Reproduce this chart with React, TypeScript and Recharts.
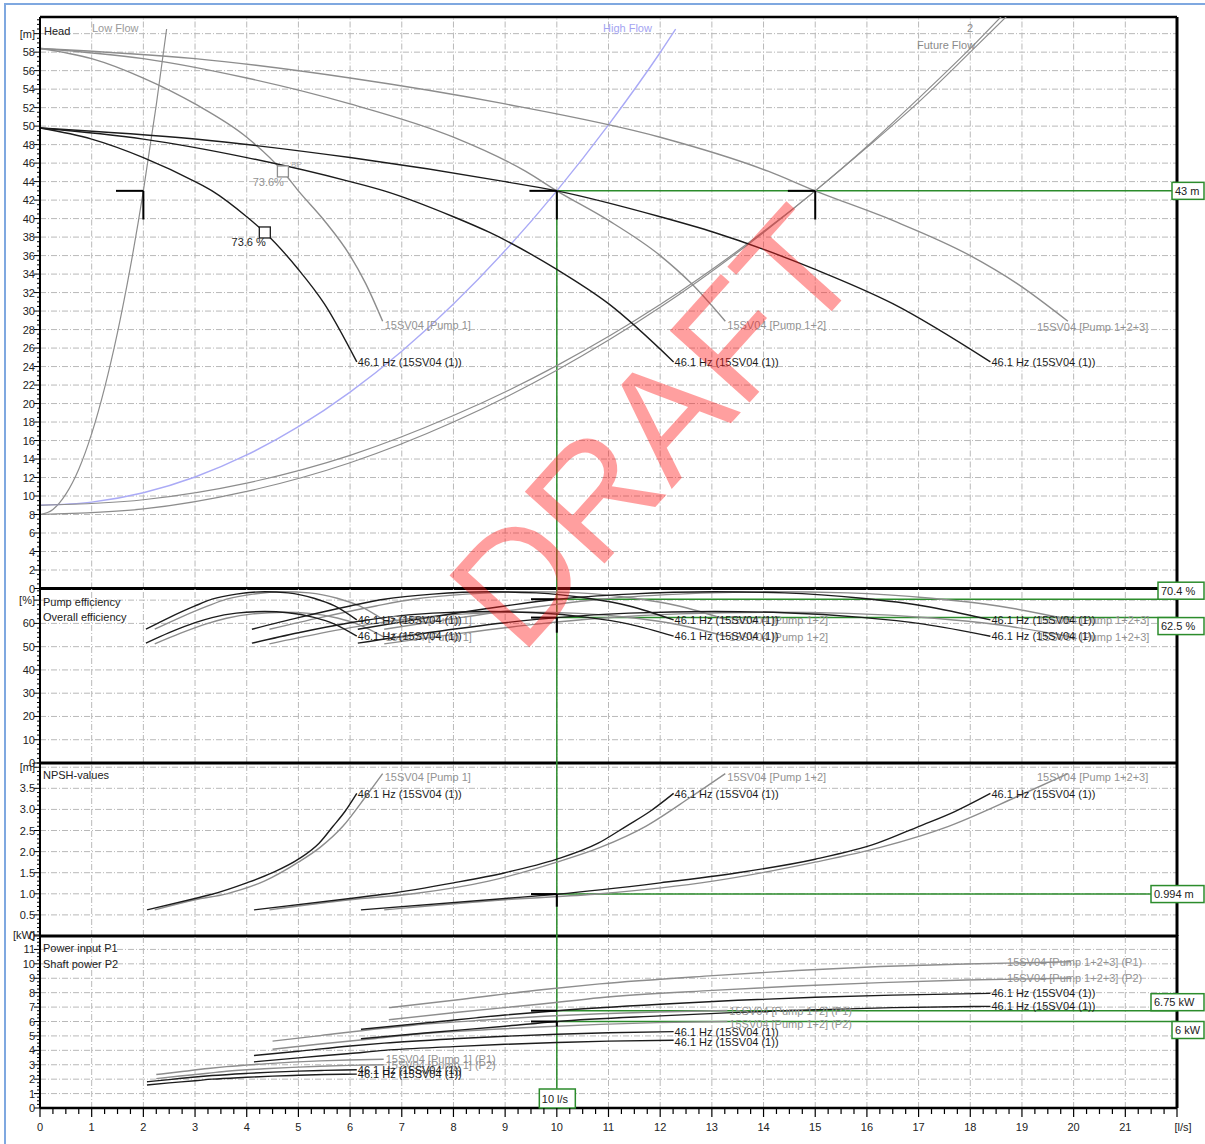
import React from 'react';
import { LineChart, Line, XAxis, YAxis, ReferenceLine, ReferenceDot } from 'recharts';

type P = [number, number];

// ---------------- Head [m] ----------------
const lowFlowSystem: P[] = [[0,8],[0.25,8.55],[0.5,10.2],[0.75,12.9],[1,16.75],[1.25,21.7],[1.5,27.7],[1.75,34.8],[2,43],[2.25,52.3],[2.45,60.5]];
const highFlowSystem: P[] = [[0,9],[1,9.34],[2,10.36],[3,12.06],[4,14.44],[5,17.5],[6,21.24],[7,25.66],[8,30.76],[9,36.54],[10,43],[11,50.14],[12,57.96],[12.3,60.5]];
const futureFlowA: P[] = [[0,9],[2,9.6],[4,11.4],[6,14.4],[8,18.7],[10,24.1],[12,30.7],[14,38.6],[15,43],[16,47.7],[17,52.6],[18,58],[19,63.5]];
const futureFlowB: P[] = [[0,8],[2,8.6],[4,10.5],[6,13.6],[8,18],[10,23.6],[12,30.4],[14,38.5],[15,43],[16,47.8],[17,53],[18,58.4],[19,64.2]];

const headPump1: P[] = [[0,58.4],[1,57.3],[2,55.2],[3,52.4],[4,48.8],[4.7,45.1],[5,43],[5.5,39.8],[6,36],[6.3,33],[6.63,28.9]];
const headPump12: P[] = [[0,58.4],[2,57.3],[4,55.2],[6,52.4],[8,48.8],[9.4,45.1],[10,43],[11,39.8],[12,36],[12.6,33],[13.26,28.9]];
const headPump123: P[] = [[0,58.4],[3,57.3],[6,55.2],[9,52.4],[12,48.8],[14.1,45.1],[15,43],[16.5,39.8],[18,36],[18.9,33],[19.89,28.9]];
const head461_1: P[] = [[0,49.8],[1,48.6],[2,46.6],[3,44],[3.33,43],[4,40.2],[4.35,38.5],[5,34.5],[5.5,30.8],[6.13,24.5]];
const head461_12: P[] = [[0,49.8],[2,48.6],[4,46.6],[6,44],[6.66,43],[8,40.2],[8.7,38.5],[10,34.5],[11,30.8],[12.26,24.5]];
const head461_123: P[] = [[0,49.8],[3,48.6],[6,46.6],[9,44],[10,43],[12,40.2],[13.05,38.5],[15,34.5],[16.5,30.8],[18.39,24.5]];
const bepPump1: P = [4.7, 45.1];
const bep461: P = [4.35, 38.5];

// ---------------- Efficiency [%] ----------------
const effPump461_1: P[] = [[2.05,57.5],[2.5,62.5],[3,67.5],[3.33,70.4],[3.8,72.6],[4.35,73.6],[4.8,73.1],[5.3,70.8],[5.7,67.5],[6.13,61.5]];
const effAll461_1: P[] = [[2.05,51.5],[2.5,56],[3,60.3],[3.33,62.5],[3.8,64.4],[4.35,65.1],[4.8,64.6],[5.3,62.6],[5.7,59.7],[6.13,54.5]];
const effPump_1: P[] = [[2.22,57.5],[2.71,62.5],[3.25,67.5],[3.61,70.4],[4.12,72.6],[4.72,73.6],[5.21,73.1],[5.75,70.8],[6.18,67.5],[6.65,61.5]];
const effAll_1: P[] = [[2.22,51.2],[2.71,55.7],[3.25,60],[3.61,62.2],[4.12,64.1],[4.72,64.8],[5.21,64.3],[5.75,62.3],[6.18,59.4],[6.65,54.2]];
const effPump461_12: P[] = [[4.1,57.5],[5,62.5],[6,67.5],[6.66,70.4],[7.6,72.6],[8.7,73.6],[9.6,73.1],[10.6,70.8],[11.4,67.5],[12.26,61.5]];
const effAll461_12: P[] = [[4.1,51.5],[5,56],[6,60.3],[6.66,62.5],[7.6,64.4],[8.7,65.1],[9.6,64.6],[10.6,62.6],[11.4,59.7],[12.26,54.5]];
const effPump_12: P[] = [[4.44,57.5],[5.42,62.5],[6.5,67.5],[7.22,70.4],[8.24,72.6],[9.44,73.6],[10.42,73.1],[11.5,70.8],[12.36,67.5],[13.3,61.5]];
const effAll_12: P[] = [[4.44,51.2],[5.42,55.7],[6.5,60],[7.22,62.2],[8.24,64.1],[9.44,64.8],[10.42,64.3],[11.5,62.3],[12.36,59.4],[13.3,54.2]];
const effPump461_123: P[] = [[6.15,57.5],[7.5,62.5],[9,67.5],[10,70.4],[11.4,72.6],[13.05,73.6],[14.4,73.1],[15.9,70.8],[17.1,67.5],[18.39,61.5]];
const effAll461_123: P[] = [[6.15,51.5],[7.5,56],[9,60.3],[10,62.5],[11.4,64.4],[13.05,65.1],[14.4,64.6],[15.9,62.6],[17.1,59.7],[18.39,54.5]];
const effPump_123: P[] = [[6.66,57.5],[8.13,62.5],[9.75,67.5],[10.83,70.4],[12.36,72.6],[14.16,73.6],[15.63,73.1],[17.25,70.8],[18.54,67.5],[19.95,61.5]];
const effAll_123: P[] = [[6.66,51.2],[8.13,55.7],[9.75,60],[10.83,62.2],[12.36,64.1],[14.16,64.8],[15.63,64.3],[17.25,62.3],[18.54,59.4],[19.95,54.2]];

// ---------------- NPSH [m] ----------------
const npsh461_1: P[] = [[2.07,0.62],[3,0.89],[3.33,0.99],[4,1.26],[4.5,1.5],[5,1.82],[5.4,2.2],[5.67,2.6],[5.9,2.95],[6.13,3.38]];
const npsh_1: P[] = [[2.22,0.62],[3,0.86],[3.61,1.0],[4.34,1.3],[5,1.75],[5.42,2.1],[5.86,2.6],[6.3,3.3],[6.63,3.85]];
const npsh461_12: P[] = [[4.14,0.62],[6,0.89],[6.66,0.99],[8,1.26],[9,1.5],[10,1.82],[10.8,2.2],[11.34,2.6],[11.8,2.95],[12.26,3.38]];
const npsh_12: P[] = [[4.44,0.62],[6,0.86],[7.22,1.0],[8.68,1.3],[10,1.75],[10.84,2.1],[11.72,2.6],[12.6,3.3],[13.26,3.85]];
const npsh461_123: P[] = [[6.21,0.62],[9,0.89],[10,0.99],[12,1.26],[13.5,1.5],[15,1.82],[16.2,2.2],[17.01,2.6],[17.7,2.95],[18.39,3.38]];
const npsh_123: P[] = [[6.66,0.62],[9,0.86],[10.83,1.0],[13.02,1.3],[15,1.75],[16.26,2.1],[17.58,2.6],[18.9,3.3],[19.89,3.85]];

// ---------------- Power [kW] ----------------
const p1_461_1: P[] = [[2.07,1.82],[2.5,1.97],[3,2.15],[3.33,2.25],[4,2.4],[4.5,2.49],[5,2.56],[5.5,2.61],[6.13,2.65]];
const p2_461_1: P[] = [[2.07,1.6],[2.5,1.74],[3,1.89],[3.33,2.0],[4,2.13],[4.5,2.21],[5,2.27],[5.5,2.32],[6.13,2.35]];
const p1_1: P[] = [[2.25,2.32],[2.71,2.51],[3.25,2.74],[3.61,2.87],[4.34,3.06],[4.88,3.18],[5.42,3.27],[5.97,3.33],[6.65,3.38]];
const p2_1: P[] = [[2.25,2.04],[2.71,2.22],[3.25,2.41],[3.61,2.55],[4.34,2.72],[4.88,2.82],[5.42,2.9],[5.97,2.96],[6.65,3.0]];
const p1_461_12: P[] = [[4.14,3.64],[5,3.94],[6,4.3],[6.66,4.5],[8,4.8],[9,4.98],[10,5.12],[11,5.22],[12.26,5.3]];
const p2_461_12: P[] = [[4.14,3.2],[5,3.48],[6,3.78],[6.66,4.0],[8,4.26],[9,4.42],[10,4.54],[11,4.64],[12.26,4.7]];
const p1_12: P[] = [[4.5,4.64],[5.42,5.02],[6.5,5.48],[7.22,5.74],[8.68,6.12],[9.76,6.36],[10.84,6.54],[11.94,6.66],[13.3,6.76]];
const p2_12: P[] = [[4.5,4.08],[5.42,4.44],[6.5,4.82],[7.22,5.1],[8.68,5.44],[9.76,5.64],[10.84,5.8],[11.94,5.92],[13.3,6.0]];
const p1_461_123: P[] = [[6.21,5.46],[7.5,5.91],[9,6.45],[10,6.75],[12,7.2],[13.5,7.47],[15,7.68],[16.5,7.83],[18.39,7.95]];
const p2_461_123: P[] = [[6.21,4.8],[7.5,5.22],[9,5.67],[10,6.0],[12,6.39],[13.5,6.63],[15,6.81],[16.5,6.96],[18.39,7.05]];
const p1_123: P[] = [[6.75,6.96],[8.13,7.53],[9.75,8.22],[10.83,8.61],[13.02,9.18],[14.64,9.54],[16.26,9.81],[17.91,9.99],[19.95,10.14]];
const p2_123: P[] = [[6.75,6.12],[8.13,6.66],[9.75,7.23],[10.83,7.65],[13.02,8.16],[14.64,8.46],[16.26,8.7],[17.91,8.88],[19.95,9.0]];

// ---------------- Duty point ----------------
const dutyFlow = 10;
const dutyHead = 43;
const dutyEffPump = 70.4;
const dutyEffAll = 62.5;
const dutyNpsh = 0.994;
const dutyP1 = 6.75;
const dutyP2 = 6;
const headMarks: number[] = [2, 10, 15];

// ---------------- Labels ----------------
const lbl461 = '46.1 Hz (15SV04 (1))';
const lblP1 = '15SV04 [Pump 1]';
const lblP12 = '15SV04 [Pump 1+2]';
const lblP123 = '15SV04 [Pump 1+2+3]';

// ---------------- Styles ----------------
const FONT = '"Liberation Sans", Arial, sans-serif';
const W = 1205;
const GRAY = '#8d8d8d';
const TGRAY = '#929292';
const BLACK = '#1c1c1c';
const BLUE = '#aaaaf6';
const GREEN = '#2c8c2c';
const GRIDC = '#b9b9b9';

const range = (a: number, b: number, s: number): number[] => {
  const out: number[] = [];
  for (let i = 0; a + i * s <= b + 1e-9; i++) out.push(Math.round((a + i * s) * 1000) / 1000);
  return out;
};

const xTicks = range(0, 22, 0.25);
const xGrid = range(1, 21, 1);

const rows = (a: P[]) => a.map(([q, v]) => ({ q, v }));
const last = (a: P[]): P => a[a.length - 1];

const curve = (key: string, d: P[], color: string, w = 1.4) => (
  <Line key={key} data={rows(d)} dataKey="v" type="monotone" stroke={color} strokeWidth={w}
    dot={false} activeDot={false} isAnimationActive={false} legendType="none" />
);

const tag = (key: string, pt: P, text: string, color: string, dx = 2, dy = 4, size = 11, anchor = 'start') => (
  <ReferenceDot key={key} x={pt[0]} y={pt[1]} r={0} ifOverflow="visible"
    shape={(p: any) => (
      <text x={p.cx + dx} y={p.cy + dy} fontSize={size} fontFamily={FONT} fill={color} textAnchor={anchor}>{text}</text>
    )} />
);

const square = (key: string, pt: P, color: string) => (
  <ReferenceDot key={key} x={pt[0]} y={pt[1]} r={0} ifOverflow="visible"
    shape={(p: any) => (
      <rect x={p.cx - 5.5} y={p.cy - 5.5} width={11} height={11} fill="#fff" stroke={color} strokeWidth={1.3} />
    )} />
);

const valueBox = (key: string, pt: P, text: string, w: number, pos: 'above' | 'below' | 'center') => (
  <ReferenceDot key={key} x={pt[0]} y={pt[1]} r={0} ifOverflow="visible"
    shape={(p: any) => {
      const h = 17;
      const right = p.cx + 27;
      const y0 = pos === 'above' ? p.cy - h : pos === 'below' ? p.cy : p.cy - h / 2;
      return (
        <g>
          <rect x={right - w} y={y0} width={w} height={h} fill="#fff" stroke={GREEN} strokeWidth={1.5} />
          <text x={right - w + 3} y={y0 + 12.5} fontSize={11} fontFamily={FONT} fill="#222">{text}</text>
        </g>
      );
    }} />
);

const tee = (key: string, q: number, v: number, dq: number, dv: number) => [
  <ReferenceLine key={key + 'h'} segment={[{ x: q - dq, y: v }, { x: q, y: v }]} stroke="#000" strokeWidth={2} />,
  dv > 0 ? <ReferenceLine key={key + 'v'} segment={[{ x: q, y: v }, { x: q, y: v - dv }]} stroke="#000" strokeWidth={2} /> : null,
];

const grid = (key: string, ys: number[]) => [
  ...xGrid.map((x) => <ReferenceLine key={key + 'x' + x} x={x} stroke={GRIDC} strokeWidth={1} strokeDasharray="6 2 1 2" />),
  ...ys.map((y) => <ReferenceLine key={key + 'y' + y} y={y} stroke={GRIDC} strokeWidth={1} strokeDasharray="6 2 1 2" />),
];

const greenH = (key: string, v: number) => (
  <ReferenceLine key={key} segment={[{ x: dutyFlow, y: v }, { x: 22, y: v }]} stroke={GREEN} strokeWidth={1.5} />
);

const yTickRenderer = (majors: number[], fmt: (v: number) => string) => (p: any) => {
  const v = p.payload.value;
  const major = majors.some((m) => Math.abs(m - v) < 1e-6);
  return (
    <g>
      <line x1={p.x - (major ? 6 : 3)} x2={p.x} y1={p.y} y2={p.y} stroke="#000" strokeWidth={1} />
      {major ? (
        <text x={p.x - 5} y={p.y + 4} textAnchor="end" fontSize={11} fontFamily={FONT} fill="#222">{fmt(v)}</text>
      ) : null}
    </g>
  );
};

const xTickRenderer = (p: any) => {
  const v = p.payload.value;
  const major = Math.abs(v - Math.round(v)) < 1e-6;
  return (
    <g>
      <line x1={p.x} x2={p.x} y1={p.y} y2={p.y + (major ? 9 : 6)} stroke="#000" strokeWidth={1.2} />
      {major ? (
        <text x={v === 22 ? p.x + 6 : p.x} y={p.y + 23} textAnchor="middle" fontSize={11} fontFamily={FONT} fill="#222">
          {v === 22 ? '[l/s]' : String(v)}
        </text>
      ) : null}
    </g>
  );
};

interface PanelOpts {
  top: number;
  height: number;
  mTop: number;
  mBottom: number;
  yDomain: [number, number];
  ticks: number[];
  majors: number[];
  fmt: (v: number) => string;
  showX?: boolean;
  children: any[];
}

const panel = (o: PanelOpts) => (
  <div style={{ position: 'absolute', left: 0, top: o.top, width: W, height: o.height }}>
    <LineChart width={W} height={o.height} margin={{ top: o.mTop, bottom: o.mBottom, left: 5, right: 28 }}>
      <XAxis type="number" dataKey="q" domain={[0, 22]} allowDataOverflow hide={!o.showX} ticks={xTicks}
        interval={0} tickSize={0} tickMargin={0} tick={xTickRenderer} height={30}
        axisLine={{ stroke: '#000', strokeWidth: 2.5 }} tickLine={false} />
      <YAxis type="number" domain={o.yDomain} allowDataOverflow ticks={o.ticks} interval={0} tickSize={0}
        tickMargin={0} width={35} tick={yTickRenderer(o.majors, o.fmt)}
        axisLine={{ stroke: '#000', strokeWidth: 2 }} tickLine={false} />
      {o.children}
    </LineChart>
  </div>
);

const frame = (key: string, withBottom: boolean) => [
  <ReferenceLine key={key + 'r'} x={22} stroke="#000" strokeWidth={3} />,
  withBottom ? <ReferenceLine key={key + 'b'} y={0} stroke="#000" strokeWidth={3} /> : null,
];

export default function App() {
  const headTop = 61.8;
  const head = panel({
    top: 0, height: 600, mTop: 17, mBottom: 11.5, yDomain: [0, headTop],
    ticks: range(0, 61.5, 0.5), majors: range(0, 60, 2), fmt: (v) => (v === 60 ? '[m]' : String(v)),
    children: [
      ...grid('hg', range(2, 60, 2)),
      ...frame('hf', true),
      <ReferenceLine key="htop" y={headTop} stroke="#000" strokeWidth={2.5} />,
      <ReferenceLine key="hgv" segment={[{ x: dutyFlow, y: 0 }, { x: dutyFlow, y: dutyHead }]} stroke={GREEN} strokeWidth={1.5} />,
      greenH('hgh', dutyHead),
      curve('lf', lowFlowSystem, GRAY, 1.2),
      curve('hf2', highFlowSystem, BLUE, 1.4),
      curve('ffa', futureFlowA, GRAY, 1.2),
      curve('ffb', futureFlowB, GRAY, 1.2),
      curve('g1', headPump1, GRAY),
      curve('g12', headPump12, GRAY),
      curve('g123', headPump123, GRAY),
      curve('b1', head461_1, BLACK),
      curve('b12', head461_12, BLACK),
      curve('b123', head461_123, BLACK),
      ...headMarks.flatMap((q) => tee('ht' + q, q, dutyHead, 0.53, 3.1)),
      square('sq1', bepPump1, GRAY),
      square('sq2', bep461, BLACK),
      tag('sq1t', bepPump1, '73.6%', TGRAY, 1, 15, 11, 'end'),
      tag('sq1b', bepPump1, 'BP', '#aaa', 8, -4, 8),
      tag('sq2t', bep461, '73.6 %', BLACK, 1, 14, 11, 'end'),
      tag('l1', last(headPump1), lblP1, TGRAY, 2, 8),
      tag('l12', last(headPump12), lblP12, TGRAY, 2, 8),
      tag('l123', last(headPump123), lblP123, TGRAY, -31, 10),
      tag('k1', last(head461_1), lbl461, BLACK, 1, 4),
      tag('k12', last(head461_12), lbl461, BLACK, 1, 4),
      tag('k123', last(head461_123), lbl461, BLACK, 1, 4),
      valueBox('hb', [22, dutyHead], '43 m', 32, 'center'),
    ],
  });

  const eff = panel({
    top: 580, height: 200, mTop: 8.5, mBottom: 17, yDomain: [0, 75],
    ticks: range(0, 74, 2), majors: range(0, 70, 10), fmt: (v) => (v === 70 ? '[%]' : String(v)),
    children: [
      ...grid('eg', range(10, 70, 10)),
      ...frame('ef', true),
      <ReferenceLine key="egv" x={dutyFlow} stroke={GREEN} strokeWidth={1.5} />,
      greenH('egh1', dutyEffPump),
      greenH('egh2', dutyEffAll),
      curve('e1', effPump_1, GRAY),
      curve('e2', effAll_1, GRAY),
      curve('e3', effPump_12, GRAY),
      curve('e4', effAll_12, GRAY),
      curve('e5', effPump_123, GRAY),
      curve('e6', effAll_123, GRAY),
      curve('e7', effPump461_1, BLACK),
      curve('e8', effAll461_1, BLACK),
      curve('e9', effPump461_12, BLACK),
      curve('e10', effAll461_12, BLACK),
      curve('e11', effPump461_123, BLACK),
      curve('e12', effAll461_123, BLACK),
      ...tee('et1', dutyFlow, dutyEffPump, 0.5, 0),
      ...tee('et2', dutyFlow, dutyEffAll, 0.5, 6.5),
      tag('el1', last(effPump_1), lblP1, TGRAY, 2, 4),
      tag('el2', last(effAll_1), lblP1, TGRAY, 2, 4),
      tag('el3', last(effPump_12), lblP12, TGRAY, 2, 4),
      tag('el4', last(effAll_12), lblP12, TGRAY, 2, 4),
      tag('el5', last(effPump_123), lblP123, TGRAY, -33, 4),
      tag('el6', last(effAll_123), lblP123, TGRAY, -33, 4),
      tag('ek1', last(effPump461_1), lbl461, BLACK, 1, 4),
      tag('ek2', last(effAll461_1), lbl461, BLACK, 1, 4),
      tag('ek3', last(effPump461_12), lbl461, BLACK, 1, 4),
      tag('ek4', last(effAll461_12), lbl461, BLACK, 1, 4),
      tag('ek5', last(effPump461_123), lbl461, BLACK, 1, 4),
      tag('ek6', last(effAll461_123), lbl461, BLACK, 1, 4),
      valueBox('eb1', [22, dutyEffPump], '70.4 %', 46, 'above'),
      valueBox('eb2', [22, dutyEffAll], '62.5 %', 46, 'below'),
    ],
  });

  const npsh = panel({
    top: 755, height: 200, mTop: 8, mBottom: 19, yDomain: [0, 4.1],
    ticks: range(0, 4.1, 0.1), majors: range(0, 4, 0.5),
    fmt: (v) => (v === 4 ? '[m]' : v === 0 ? '0' : v.toFixed(1)),
    children: [
      ...grid('ng', range(0.5, 4, 0.5)),
      ...frame('nf', true),
      <ReferenceLine key="ngv" x={dutyFlow} stroke={GREEN} strokeWidth={1.5} />,
      greenH('ngh', dutyNpsh),
      curve('n1', npsh_1, GRAY),
      curve('n2', npsh_12, GRAY),
      curve('n3', npsh_123, GRAY),
      curve('n4', npsh461_1, BLACK),
      curve('n5', npsh461_12, BLACK),
      curve('n6', npsh461_123, BLACK),
      ...tee('nt', dutyFlow, dutyNpsh, 0.5, 0.3),
      tag('nl1', last(npsh_1), lblP1, TGRAY, 2, 7),
      tag('nl2', last(npsh_12), lblP12, TGRAY, 2, 7),
      tag('nl3', last(npsh_123), lblP123, TGRAY, -31, 7),
      tag('nk1', last(npsh461_1), lbl461, BLACK, 1, 5),
      tag('nk2', last(npsh461_12), lbl461, BLACK, 1, 5),
      tag('nk3', last(npsh461_123), lbl461, BLACK, 1, 5),
      valueBox('nb', [22, dutyNpsh], '0.994 m', 53, 'center'),
    ],
  });

  const power = panel({
    top: 925, height: 219, mTop: 10, mBottom: 6, yDomain: [0, 12], showX: true,
    ticks: range(0, 12, 0.25), majors: range(0, 12, 1), fmt: (v) => (v === 12 ? '[kW]' : String(v)),
    children: [
      ...grid('pg', range(1, 11, 1)),
      ...frame('pf', false),
      <ReferenceLine key="pgv" segment={[{ x: dutyFlow, y: 1.35 }, { x: dutyFlow, y: 12 }]} stroke={GREEN} strokeWidth={1.5} />,
      greenH('pgh1', dutyP1),
      greenH('pgh2', dutyP2),
      curve('p1', p1_1, GRAY),
      curve('p2', p2_1, GRAY),
      curve('p3', p1_12, GRAY),
      curve('p4', p2_12, GRAY),
      curve('p5', p1_123, GRAY),
      curve('p6', p2_123, GRAY),
      curve('p7', p1_461_1, BLACK),
      curve('p8', p2_461_1, BLACK),
      curve('p9', p1_461_12, BLACK),
      curve('p10', p2_461_12, BLACK),
      curve('p11', p1_461_123, BLACK),
      curve('p12', p2_461_123, BLACK),
      ...tee('pt1', dutyFlow, dutyP1, 0.5, 0),
      ...tee('pt2', dutyFlow, dutyP2, 0.5, 0.35),
      tag('pl1', last(p1_1), lblP1 + ' (P1)', TGRAY, 2, 4),
      tag('pl2', last(p2_1), lblP1 + ' (P2)', TGRAY, 2, 4),
      tag('pl3', last(p1_12), lblP12 + ' (P1)', TGRAY, 2, 4),
      tag('pl4', last(p2_12), lblP12 + ' (P2)', TGRAY, 2, 6),
      tag('pl5', last(p1_123), lblP123 + ' (P1)', TGRAY, -64, 4),
      tag('pl6', last(p2_123), lblP123 + ' (P2)', TGRAY, -64, 4),
      tag('pk1', last(p1_461_1), lbl461, BLACK, 1, 4),
      tag('pk2', last(p2_461_1), lbl461, BLACK, 1, 4),
      tag('pk3', last(p1_461_12), lbl461, BLACK, 1, 4),
      tag('pk4', last(p2_461_12), lbl461, BLACK, 1, 6),
      tag('pk5', last(p1_461_123), lbl461, BLACK, 1, 4),
      tag('pk6', last(p2_461_123), lbl461, BLACK, 1, 4),
      valueBox('pb1', [22, dutyP1], '6.75 kW', 53, 'above'),
      valueBox('pb2', [22, dutyP2], '6 kW', 32, 'below'),
      <ReferenceDot key="qbox" x={dutyFlow} y={0} r={0} ifOverflow="visible"
        shape={(p: any) => (
          <g>
            <rect x={p.cx - 17.5} y={p.cy - 19} width={36} height={19} fill="#fff" stroke={GREEN} strokeWidth={1.5} />
            <text x={p.cx - 15} y={p.cy - 5} fontSize={11} fontFamily={FONT} fill="#222">10 l/s</text>
          </g>
        )} />,
    ],
  });

  const t = { fontFamily: FONT, fontSize: 11 } as const;
  return (
    <div style={{ position: 'absolute', left: 0, top: 0, width: W, height: 1144, background: '#fff', overflow: 'hidden' }}>
      <div style={{ position: 'absolute', left: 4, top: 3, width: 1210, height: 1150, borderTop: '2px solid #7fa8e0', borderLeft: '2px solid #7fa8e0' }} />
      {head}
      {eff}
      {npsh}
      {power}
      <svg width={W} height={1144} style={{ position: 'absolute', left: 0, top: 0, pointerEvents: 'none' }}>
        <text x={44} y={35} {...t} fill="#222">Head</text>
        <text x={92} y={32} {...t} fill="#9a9a9a">Low Flow</text>
        <text x={603} y={32} {...t} fill="#a4a4f2">High Flow</text>
        <text x={967} y={32} {...t} fill="#8a8a8a">2</text>
        <text x={917} y={49} {...t} fill="#8a8a8a">Future Flow</text>
        <text x={43} y={606} {...t} fill="#222">Pump efficiency</text>
        <text x={43} y={621} {...t} fill="#222">Overall efficiency</text>
        <text x={43} y={779} {...t} fill="#222">NPSH-values</text>
        <text x={43} y={952} {...t} fill="#222">Power input P1</text>
        <text x={43} y={968} {...t} fill="#222">Shaft power P2</text>
        <text x={664} y={436} transform="rotate(-48 664 436)" textAnchor="middle" dominantBaseline="middle"
          fontFamily={FONT} fontSize={156} fill="#ff1a1a" fillOpacity={0.42}>DRAFT</text>
      </svg>
    </div>
  );
}
